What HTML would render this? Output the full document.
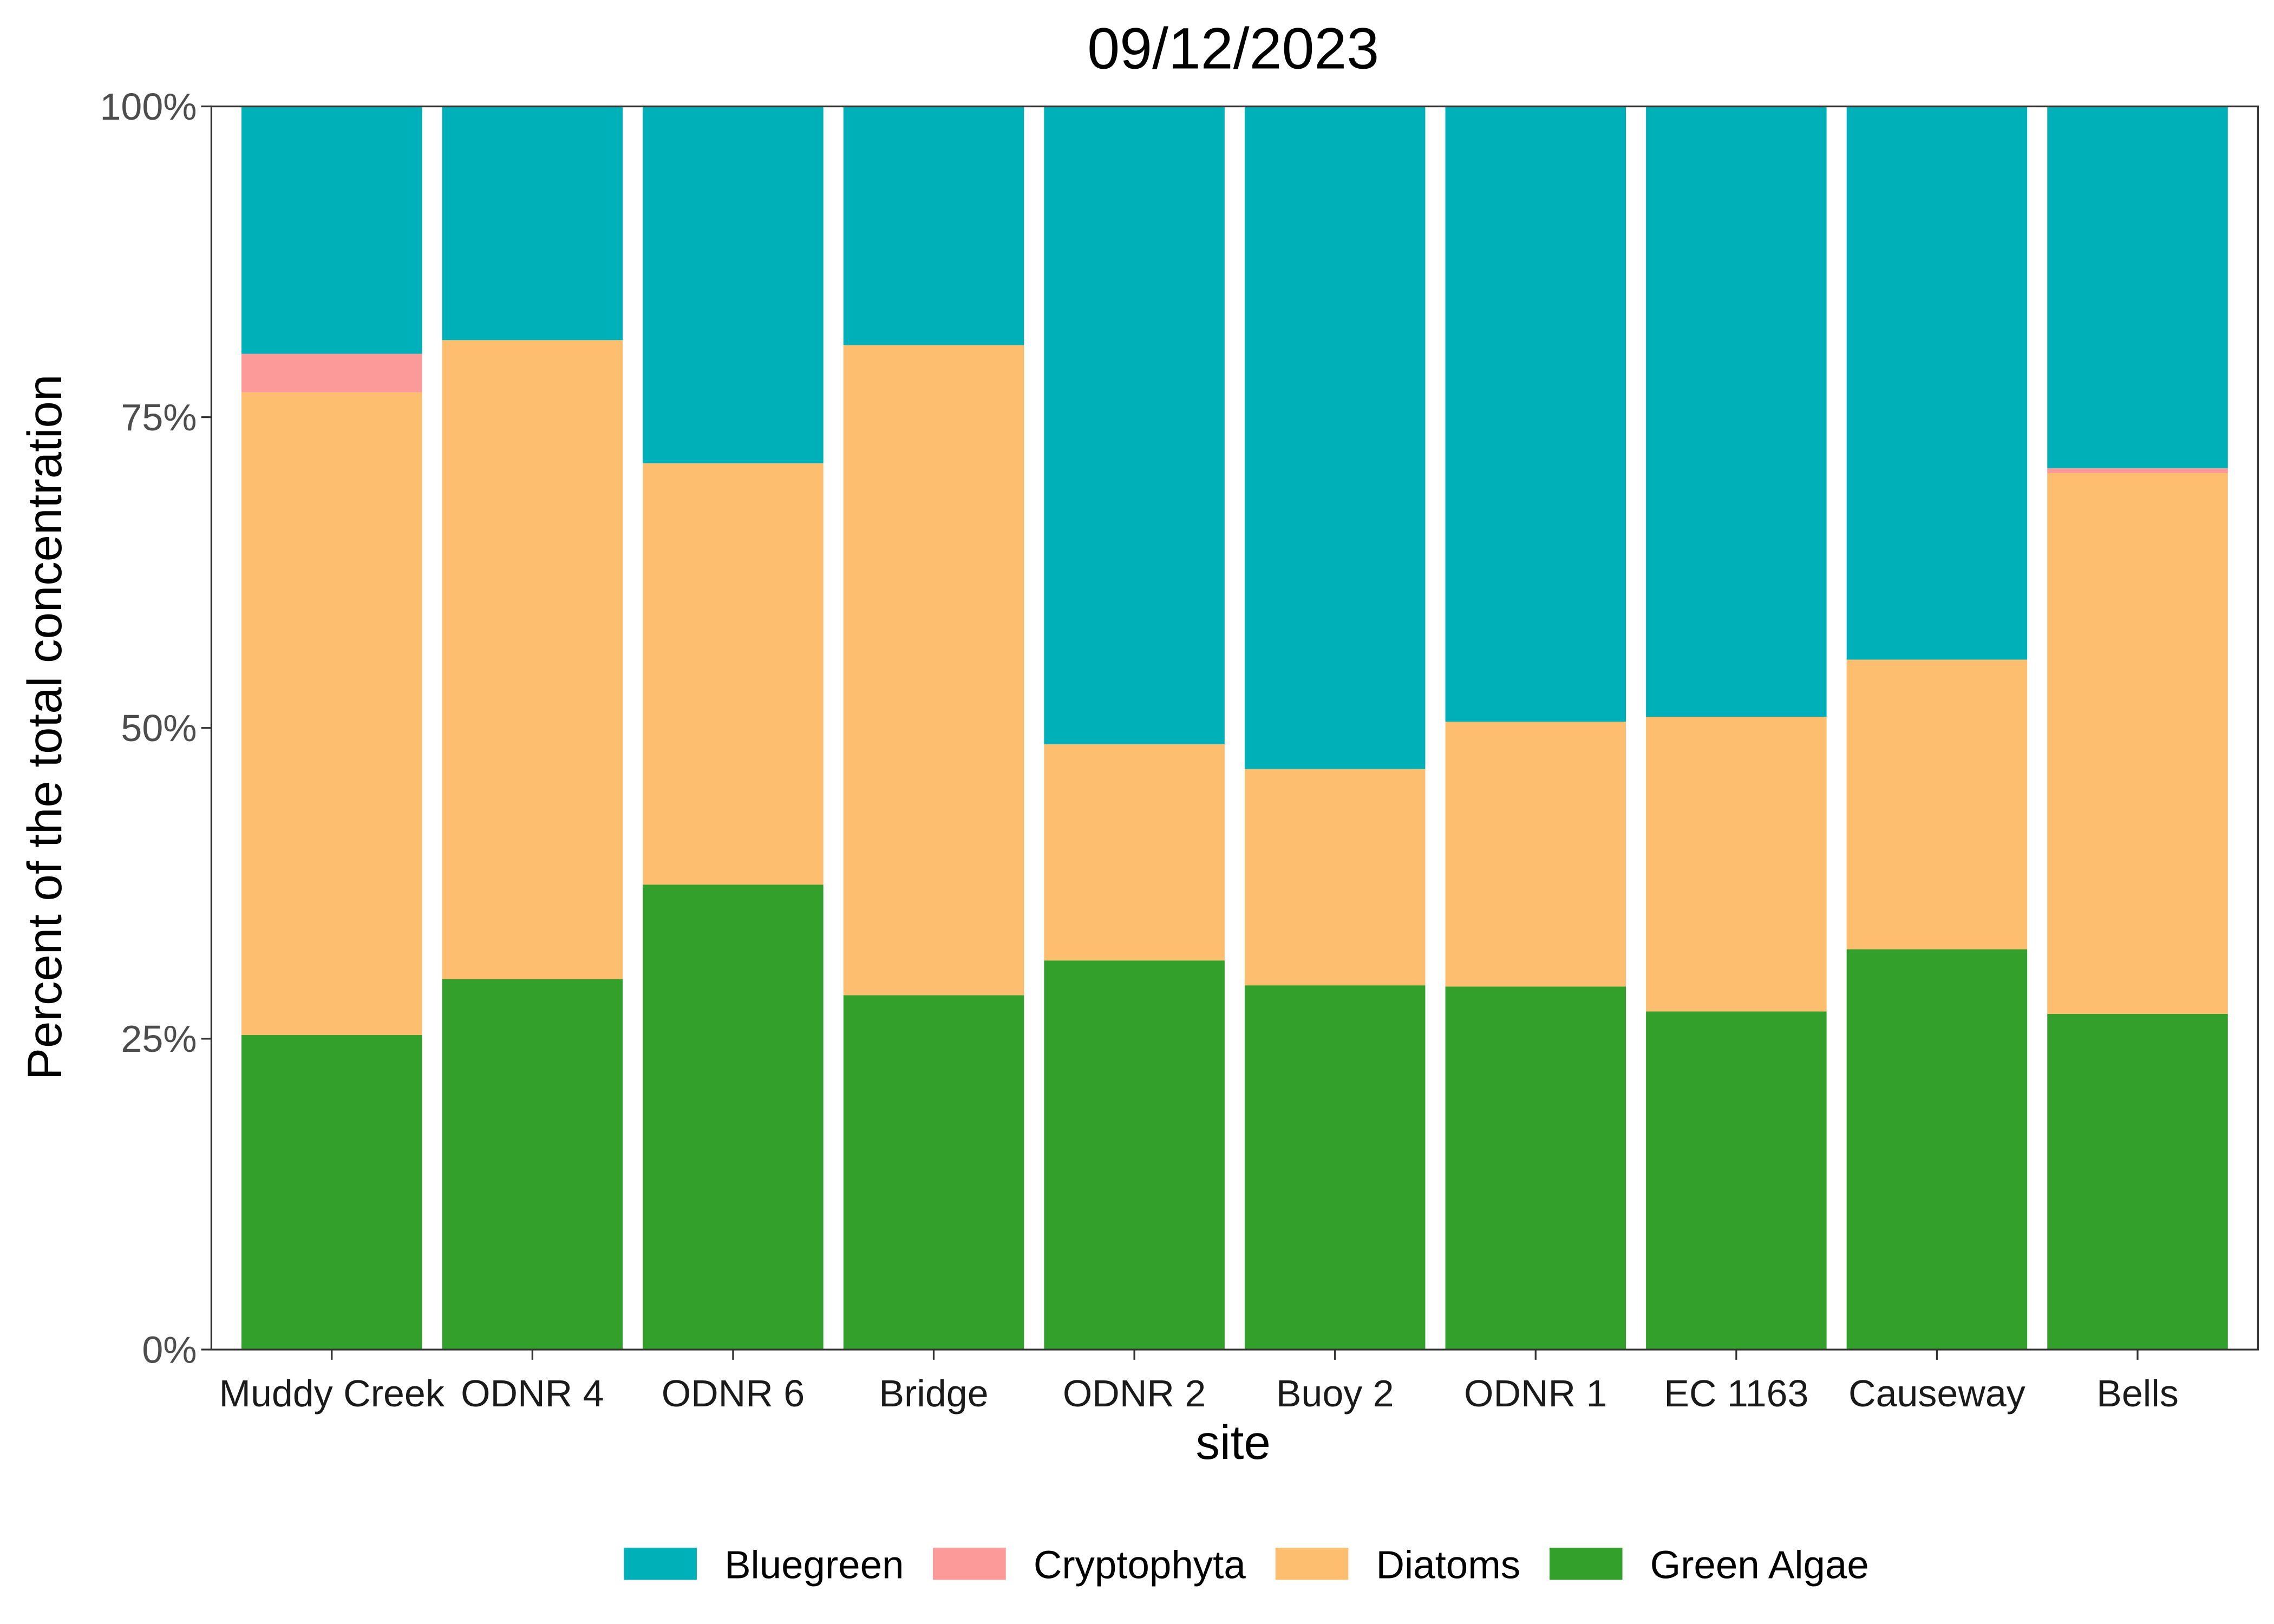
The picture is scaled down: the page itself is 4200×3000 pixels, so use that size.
<!DOCTYPE html>
<html><head><meta charset="utf-8"><style>html,body{margin:0;padding:0;background:#fff}svg{display:block}</style></head>
<body>
<svg id="chart" xmlns="http://www.w3.org/2000/svg" width="4200" height="3000" viewBox="0 0 1560 1114.3" font-family="'Liberation Sans', sans-serif">
<rect width="1560" height="1114.3" fill="#fff"/>
<text x="846" y="47" font-size="40" text-anchor="middle" fill="#000">09/12/2023</text>
<g id="plot"></g>
<text x="846" y="1001" font-size="33" text-anchor="middle" fill="#000">site</text>
<text transform="translate(42,499) rotate(-90)" font-size="33" text-anchor="middle" fill="#000">Percent of the total concentration</text>
<g id="legend"></g>
</svg>
<script>
const sites = ["Muddy Creek","ODNR 4","ODNR 6","Bridge","ODNR 2","Buoy 2","ODNR 1","EC 1163","Causeway","Bells"];
const greenAlgae = [25.3,29.8,37.4,28.5,31.3,29.3,29.2,27.2,32.2,27.0];
const diatoms = [51.7,51.4,33.9,52.3,17.4,17.4,21.3,23.7,23.3,43.5];
const cryptophyta = [3.1,0,0,0,0,0,0,0,0,0.4];
const bluegreen = [19.9,18.8,28.7,19.2,51.3,53.3,49.5,49.1,44.5,29.1];
const yTicks = [0,25,50,75,100];
const seriesNames = ["Bluegreen","Cryptophyta","Diatoms","Green Algae"];
const seriesColors = ["#00B0B9","#FB9A99","#FDBF6F","#33A02C"];

const NS="http://www.w3.org/2000/svg";
const L=145,R=1549,T=73,B=926;
const step=(R-L)/(sites.length+0.2);
const xc=i=>L+step*(0.6+i);
const y=v=>B-(B-T)*v/100;
const g=document.getElementById('plot');
function mk(tag,attrs,parent){const e=document.createElementNS(NS,tag);for(const k in attrs)e.setAttribute(k,attrs[k]);parent.appendChild(e);return e;}
const stack=[greenAlgae,diatoms,cryptophyta,bluegreen];
const stackColors=["#33A02C","#FDBF6F","#FB9A99","#00B0B9"];
const stackNames=["green-algae","diatoms","cryptophyta","bluegreen"];
sites.forEach((s,i)=>{
  let base=0;
  const tot=greenAlgae[i]+diatoms[i]+cryptophyta[i]+bluegreen[i];
  stack.forEach((arr,k)=>{
    const v=arr[i]/tot*100;
    if(v>0){
      const r=mk('rect',{x:xc(i)-step*0.45,y:y(base+v),width:step*0.9,height:y(base)-y(base+v),fill:stackColors[k]},g);
      
      
    }
    base+=v;
  });
  const t=mk('line',{x1:xc(i),x2:xc(i),y1:B,y2:B+7,stroke:'#333','stroke-width':1.2},g);
  
  
  const lb=mk('text',{x:xc(i),y:B+39,'font-size':26,'text-anchor':'middle',fill:'#1a1a1a'},g);
  lb.textContent=s;
  
  
});
yTicks.forEach(v=>{
  const t=mk('line',{x1:L-7,x2:L,y1:y(v),y2:y(v),stroke:'#333','stroke-width':1.2},g);
  
  
  const lb=mk('text',{x:L-10,y:y(v)+9,'font-size':26,'text-anchor':'end',fill:'#4d4d4d'},g);
  lb.textContent=v+'%';
  
  
});
const border=mk('rect',{x:L,y:T,width:R-L,height:B-T,fill:'none',stroke:'#333','stroke-width':1.2},g);


const lg=document.getElementById('legend');
const keyX=[428,640,875,1063];
seriesNames.forEach((n,k)=>{
  const r=mk('rect',{x:keyX[k],y:1062,width:50,height:22,fill:seriesColors[k]},lg);
  
  
  const t=mk('text',{x:keyX[k]+69,y:1083,'font-size':27,fill:'#000'},lg);
  t.textContent=n;
  
  
});
</script>
</body></html>
